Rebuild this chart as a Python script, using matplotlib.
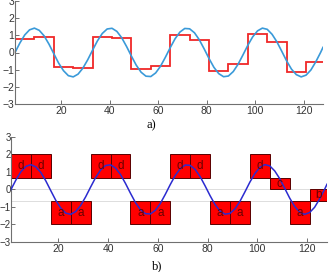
import matplotlib
matplotlib.use("Agg")
import matplotlib.pyplot as plt
from matplotlib.patches import Rectangle

plt.rcParams['font.family'] = 'Liberation Sans'

sig_x = list(range(1, 128, 2)) + [128]
sig_y = [0.00, 0.55, 1.02, 1.32, 1.42, 1.29, 0.97, 0.49,
         -0.07, -0.62, -1.06, -1.35, -1.42, -1.26, -0.91, -0.42,
         0.14, 0.68, 1.11, 1.37, 1.41, 1.23, 0.86, 0.35,
         -0.21, -0.74, -1.15, -1.38, -1.40, -1.19, -0.80, -0.28,
         0.28, 0.80, 1.19, 1.40, 1.38, 1.15, 0.74, 0.21,
         -0.35, -0.86, -1.23, -1.41, -1.37, -1.11, -0.68, -0.14,
         0.42, 0.91, 1.26, 1.42, 1.35, 1.06, 0.62, 0.07,
         -0.49, -0.97, -1.29, -1.42, -1.32, -1.02, -0.55, 0.00, 0.30]

# segment edges and PAA levels
seg_edges = [1, 9, 17, 25, 33, 41, 49, 57, 65, 73, 81, 89, 97, 105, 113, 121, 128]
paa = [0.80, 0.93, -0.87, -0.90, 0.93, 0.85, -0.98, -0.78,
       1.00, 0.72, -1.07, -0.68, 1.10, 0.60, -1.13, -0.53]

# symbols and their boxes
symbols = list("ddaaddaaddaadcab")
sym_lo = {'a': -2.0, 'b': -0.67, 'c': 0.0, 'd': 0.67}
sym_hi = {'a': -0.67, 'b': 0.0, 'c': 0.67, 'd': 2.0}
guide_levels = [0.0, -0.67]

xticks = [20, 40, 60, 80, 100, 120]
yticks = [-3, -2, -1, 0, 1, 2, 3]

W, H = 329, 272
fig = plt.figure(figsize=(W / 100, H / 100), dpi=100)
ax1 = fig.add_axes([15 / W, 1 - 104 / H, 308 / W, 103 / H])
ax2 = fig.add_axes([11 / W, 1 - 242 / H, 316 / W, 105 / H])

gray = '#707070'
for ax in (ax1, ax2):
    ax.set_xlim(1, 128)
    ax.set_ylim(-3, 3)
    ax.set_xticks(xticks)
    ax.set_yticks(yticks)
    for s in ('top', 'right'):
        ax.spines[s].set_visible(False)
    for s in ('left', 'bottom'):
        ax.spines[s].set_color(gray)
        ax.spines[s].set_linewidth(0.8)
    ax.tick_params(direction='in', length=3, width=0.7, color=gray,
                   labelsize=7.5, labelcolor='#333333', pad=1.5)
    ax.tick_params(axis='y', pad=0.5)
    ax.patch.set_alpha(0)
ax2.tick_params(axis='y', labelsize=7, pad=0)

ax1.plot(sig_x, sig_y, color='#3a9ad9', lw=1.2)
ax1.stairs(paa, seg_edges, color='#f02828', lw=1.3, baseline=None)

for lv in guide_levels:
    ax2.axhline(lv, color='#dddddd', lw=0.7, zorder=0)
for i, s in enumerate(symbols):
    x0, x1 = seg_edges[i], seg_edges[i + 1]
    lo, hi = sym_lo[s], sym_hi[s]
    ax2.add_patch(Rectangle((x0, lo), x1 - x0, hi - lo, facecolor='#ff0000',
                            edgecolor='#5a0000', lw=0.7, zorder=2))
    ax2.text((x0 + x1) / 2, (lo + hi) / 2, s, ha='center', va='center',
             fontsize=8.5, color='#6a0000', zorder=4)
ax2.plot(sig_x, sig_y, color='#2b2bd0', lw=1.1, zorder=3)

fig.text(151 / W, 1 - 125 / H, 'a)', ha='center', va='center',
         fontsize=9, family='Liberation Serif')
fig.text(157 / W, 1 - 266 / H, 'b)', ha='center', va='center',
         fontsize=9, family='Liberation Serif')

fig.savefig('out.png', dpi=100)
